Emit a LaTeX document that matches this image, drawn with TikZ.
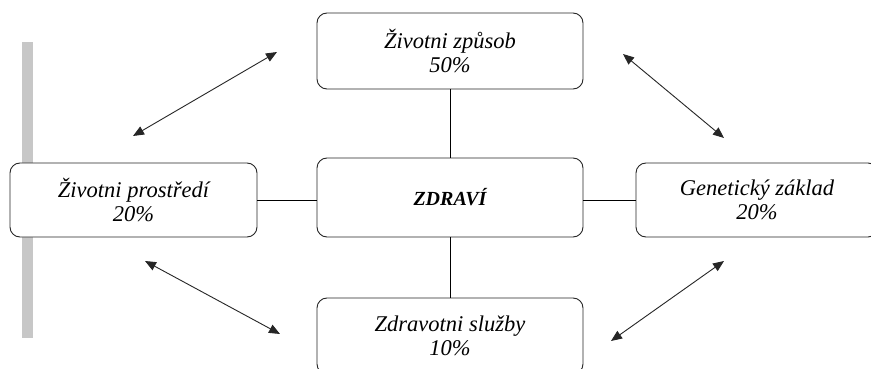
\documentclass[tikz,border=0pt]{standalone}
\usepackage{fontspec}
\setmainfont{Liberation Serif}
\usetikzlibrary{arrows.meta}
\tikzset{
  box/.style={draw=black!85, line width=0.9pt, rounded corners=10pt, fill=white, align=center,
    font=\fontsize{22.5}{23.5}\selectfont\itshape, inner sep=0pt},
  link/.style={draw=black, line width=0.9pt},
  dbl/.style={draw=black!85, line width=0.9pt, {Triangle[length=11pt,width=9pt]}-{Triangle[length=11pt,width=9pt]}}
}
\begin{document}
\begin{tikzpicture}[x=1pt,y=-1pt]
\clip (0,0) rectangle (871,369);
\fill[white] (0,0) rectangle (871,369);
\fill[black!22] (22,42) rectangle (33,338);
\node[box, minimum width=247pt, minimum height=74pt] (env) at (133.5,200) {Životni prostředí\\20\%};
\node[box, minimum width=266pt, minimum height=76pt] (life) at (450,51) {Životni způsob\\50\%};
\node[box, minimum width=266pt, minimum height=79pt, font=\fontsize{20}{22}\selectfont\itshape\bfseries] (health) at (450,197.5) {ZDRAVÍ};
\node[box, minimum width=266pt, minimum height=76pt] (care) at (450,336) {Zdravotni služby\\10\%};
\node[box, minimum width=242pt, minimum height=74pt] (gen) at (757,200) {Genetický základ\\20\%};
\draw[link] (life.south) -- (health.north);
\draw[link] (health.south) -- (care.north);
\draw[link] (env.east) -- (env.east -| health.west);
\draw[link] (gen.west) -- (gen.west -| health.east);
\coordinate (a1) at (277,52);
\coordinate (a2) at (133,136);
\coordinate (b1) at (145,261);
\coordinate (b2) at (280,334);
\coordinate (c1) at (623,54);
\coordinate (c2) at (724,138);
\coordinate (d1) at (724,261);
\coordinate (d2) at (611,341);
\draw[dbl] (a1) -- (a2);
\draw[dbl] (b1) -- (b2);
\draw[dbl] (c1) -- (c2);
\draw[dbl] (d1) -- (d2);
\end{tikzpicture}
\end{document}
